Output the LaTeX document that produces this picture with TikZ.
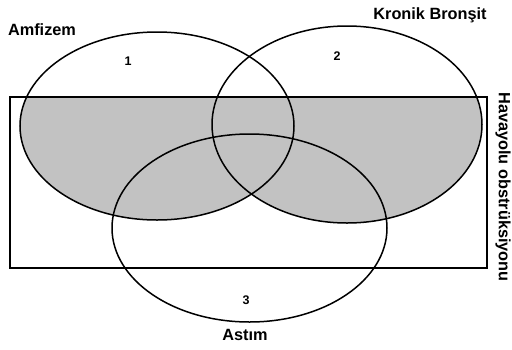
\documentclass[tikz,border=0pt]{standalone}
\usepackage{fontspec}
\setmainfont{Liberation Sans}
\begin{document}
\begin{tikzpicture}[
  x=1pt,y=-1pt,
  set/.style={draw,line width=1.5pt},
  region/.style={draw,line width=2pt},
  setname/.style={font=\fontsize{16.3}{19}\selectfont\bfseries,inner sep=0pt},
  setnum/.style={font=\fontsize{12.5}{15}\selectfont\bfseries,inner sep=0pt}
]
  \useasboundingbox (0,0) rectangle (512,349);

  % shaded: airway obstruction with emphysema or bronchitis
  \begin{scope}
    \clip (10,97) rectangle (487,268);
    \fill[black!24] (157,126) ellipse [x radius=137,y radius=94]
                    (347,124.5) ellipse [x radius=135,y radius=98.5];
  \end{scope}

  \draw[set] (157,126) ellipse [x radius=137,y radius=94];
  \draw[set] (347,124.5) ellipse [x radius=135,y radius=98.5];
  \draw[set] (249.5,228) ellipse [x radius=137.5,y radius=94];
  \draw[region] (10,97) rectangle (487,268);

  \node[setname] (amfizem) at (42,30) {Amfizem};
  \node[setname] (bronsit) at (430,15) {Kronik Bronşit};
  \node[setname] (astim) at (245,335) {Astım};
  \node[setname,rotate=-90] (obstr) at (503,187) {Havayolu obstrüksiyonu};

  \node[setnum] (n1) at (128,61) {1};
  \node[setnum] (n2) at (337,56) {2};
  \node[setnum] (n3) at (246,300) {3};
\end{tikzpicture}
\end{document}
